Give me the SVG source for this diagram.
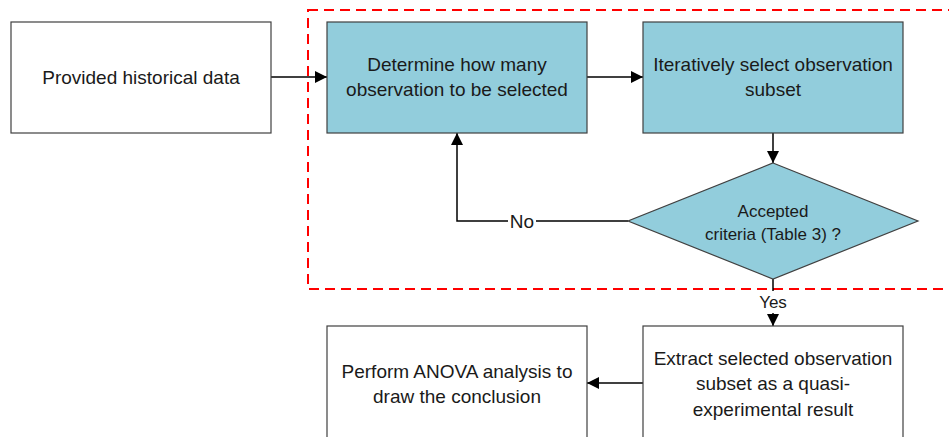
<svg xmlns="http://www.w3.org/2000/svg" width="949" height="437" viewBox="0 0 949 437">
<defs>
<style>
.box{fill:#ffffff;stroke:#404040;stroke-width:1.2}
.teal{fill:#92CDDC;stroke:#404040;stroke-width:1.2}
.t{font-family:"Liberation Sans",Arial,sans-serif;font-size:19px;fill:#1a1a1a;text-anchor:middle}
.ts{font-family:"Liberation Sans",Arial,sans-serif;font-size:17px;fill:#1a1a1a;text-anchor:middle}
.c{fill:none;stroke:#000;stroke-width:1.5}
</style>
<marker id="ah" markerWidth="12" markerHeight="12" refX="12" refY="6" orient="auto" markerUnits="userSpaceOnUse" viewBox="0 0 12 12">
<path d="M0,0 L12,6 L0,12 Z" fill="#000"/>
</marker>
</defs>
<rect x="0" y="0" width="949" height="437" fill="#ffffff"/>
<rect id="region" x="308" y="10" width="650" height="279" fill="none" stroke="#FF0000" stroke-width="2" stroke-dasharray="10,6"/>
<g id="connectors">
<line class="c" x1="271" y1="77" x2="327" y2="77" marker-end="url(#ah)"/>
<line class="c" x1="587" y1="77" x2="643" y2="77" marker-end="url(#ah)"/>
<line class="c" x1="773" y1="133" x2="773" y2="163" marker-end="url(#ah)"/>
<polyline class="c" points="628,221 457,221 457,133" marker-end="url(#ah)"/>
<rect x="508" y="210" width="28" height="22" fill="#ffffff"/>
<text class="t" x="522" y="228">No</text>
<line class="c" x1="773" y1="279" x2="773" y2="326" marker-end="url(#ah)"/>
<rect x="753" y="291" width="40" height="22" fill="#ffffff"/>
<text class="ts" x="773" y="308">Yes</text>
<line class="c" x1="643" y1="383" x2="587" y2="383" marker-end="url(#ah)"/>
</g>
<g id="n1">
<rect class="box" x="11" y="22" width="260" height="111"/>
<text class="t" x="141" y="84">Provided historical data</text>
</g>
<g id="n2">
<rect class="teal" x="327" y="22" width="260" height="111"/>
<text class="t" x="457" y="71">Determine how many</text>
<text class="t" x="457" y="96">observation to be selected</text>
</g>
<g id="n3">
<rect class="teal" x="643" y="22" width="260" height="111"/>
<text class="t" x="773" y="71">Iteratively select observation</text>
<text class="t" x="773" y="96">subset</text>
</g>
<g id="n4">
<polygon class="teal" points="773,163 918,221 773,279 628,221"/>
<text class="ts" x="773" y="217">Accepted</text>
<text class="ts" x="773" y="240">criteria (Table 3) ?</text>
</g>
<g id="n5">
<rect class="box" x="643" y="326" width="260" height="130"/>
<text class="t" x="773" y="365">Extract selected observation</text>
<text class="t" x="773" y="390">subset as a quasi-</text>
<text class="t" x="773" y="416">experimental result</text>
</g>
<g id="n6">
<rect class="box" x="327" y="326" width="260" height="130"/>
<text class="t" x="457" y="378">Perform ANOVA analysis to</text>
<text class="t" x="457" y="403">draw the conclusion</text>
</g>
</svg>
